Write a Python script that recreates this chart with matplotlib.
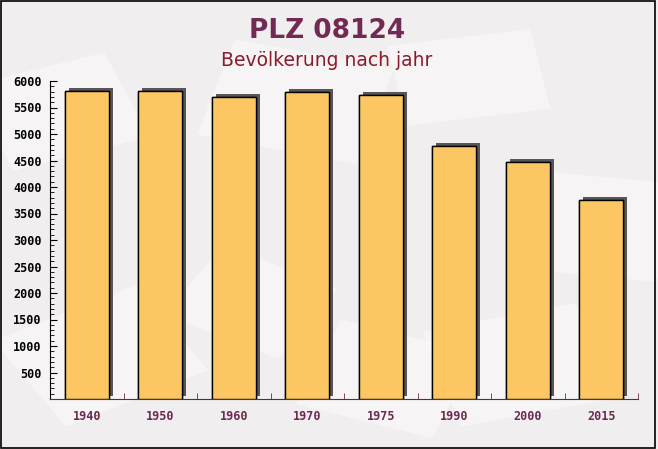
import matplotlib
matplotlib.use("Agg")
import matplotlib.pyplot as plt
import matplotlib.patheffects as pe
from matplotlib.patches import Rectangle
from matplotlib.ticker import MultipleLocator, FixedLocator

years = ["1940", "1950", "1960", "1970", "1975", "1990", "2000", "2015"]
population = [5810, 5810, 5700, 5790, 5740, 4775, 4470, 3755]
y_ticks = [500, 1000, 1500, 2000, 2500, 3000, 3500, 4000, 4500, 5000, 5500, 6000]

title = "PLZ 08124"
subtitle = "Bevölkerung nach jahr"


def main():
    fig = plt.figure(figsize=(6.58, 4.49), dpi=100)
    fig.patch.set_facecolor("#f1eeef")

    # faint "envelope" shapes in the background
    deco = [
        (0.02, 0.62, 0.22, 0.20, 20), (0.30, 0.70, 0.25, 0.22, -15),
        (0.62, 0.72, 0.22, 0.18, 10), (0.80, 0.40, 0.20, 0.22, -8),
        (0.10, 0.05, 0.25, 0.22, 30), (0.45, 0.10, 0.22, 0.20, -20),
        (0.70, 0.05, 0.24, 0.22, 15), (0.25, 0.30, 0.20, 0.18, -30),
    ]
    for x, y, w, h, ang in deco:
        fig.patches.append(Rectangle((x, y), w, h, angle=ang, transform=fig.transFigure,
                                     facecolor="white", alpha=0.4, edgecolor="none", zorder=-1))

    ax = fig.add_axes([50 / 658, 1 - 399 / 449, 588 / 658, 318 / 449])
    ax.set_facecolor("none")
    ax.set_zorder(2)

    x = list(range(len(years)))
    ax.bar(x, population, width=0.6, color="#fcc663", edgecolor="black", linewidth=1,
           path_effects=[pe.withSimplePatchShadow(offset=(3, 2), shadow_rgbFace="#5a5658", alpha=1),
                         pe.Normal()], zorder=3)

    ax.set_xlim(-0.5, len(years) - 0.5)
    ax.set_ylim(0, 6000)

    ax.set_xticks(x)
    ax.set_xticklabels(years)
    ax.xaxis.set_minor_locator(FixedLocator([i + 0.5 for i in range(len(years))]))
    ax.tick_params(axis="x", which="major", length=0, pad=8, labelsize=8.5, labelcolor="#6b2a52")
    ax.tick_params(axis="x", which="minor", direction="in", length=4, color="#6b2a52")

    ax.set_yticks(y_ticks)
    ax.yaxis.set_minor_locator(MultipleLocator(100))
    ax.tick_params(axis="y", which="major", direction="in", length=5, pad=6, labelsize=8.5,
                   labelcolor="black", color="black")
    ax.tick_params(axis="y", which="minor", direction="in", length=3, color="black")

    for lab in ax.get_xticklabels() + ax.get_yticklabels():
        lab.set_family("DejaVu Sans Mono")
        lab.set_fontweight("bold")

    for s in ["top", "right"]:
        ax.spines[s].set_visible(False)
    ax.spines["bottom"].set_color("#5a2a4a")
    ax.spines["left"].set_color("black")

    fig.text(0.497, 1 - 31 / 449, title, ha="center", va="center", fontsize=19,
             fontweight="bold", color="#722a55")
    fig.text(0.497, 1 - 61 / 449, subtitle, ha="center", va="center", fontsize=13.5,
             color="#8b1a2a")

    fig.patches.append(Rectangle((0.002, 0.003), 0.994, 0.994, transform=fig.transFigure,
                                 facecolor="none", edgecolor="black", linewidth=1.2, zorder=5))

    fig.savefig("out.png", dpi=100, facecolor=fig.get_facecolor())


if __name__ == "__main__":
    main()
